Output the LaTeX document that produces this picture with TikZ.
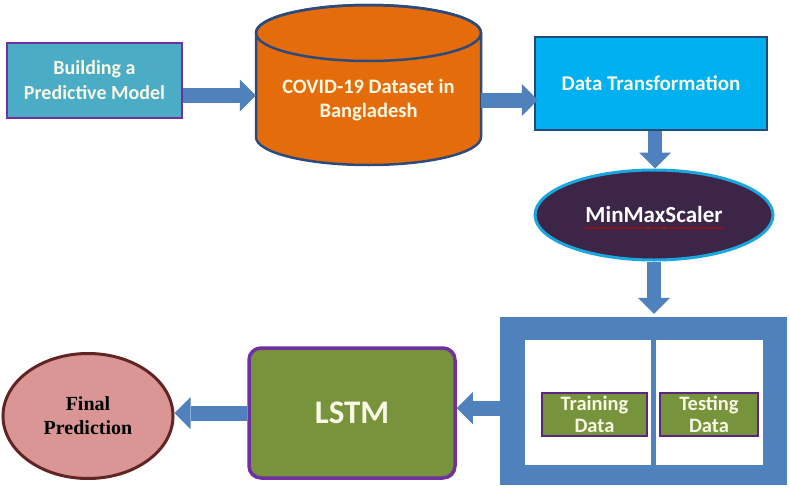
\documentclass[tikz,border=0pt]{standalone}
\usepackage{fontspec}
\setmainfont{Carlito}
\newfontfamily\timesfont{Liberation Serif}
\usetikzlibrary{shapes.geometric,arrows.meta,decorations.pathmorphing}
\definecolor{tealbox}{HTML}{4BACC6}
\definecolor{purpleb}{HTML}{7030A0}
\definecolor{orangec}{HTML}{E46C0A}
\definecolor{darkblue}{HTML}{2C4A7C}
\definecolor{skyblue}{HTML}{00B0F0}
\definecolor{dtborder}{HTML}{254A74}
\definecolor{plum}{HTML}{3C2546}
\definecolor{ellborder}{HTML}{1CA6E0}
\definecolor{arrowblue}{HTML}{4F81BD}
\definecolor{olive}{HTML}{77933C}
\definecolor{pinkf}{HTML}{D99694}
\definecolor{brownb}{HTML}{632523}
\definecolor{cream}{HTML}{F8F8E4}
\begin{document}
\begin{tikzpicture}[x=1pt,y=-1pt,
  txt/.style={text=cream,font=\fontsize{20}{25}\selectfont\bfseries,align=center},
  barrow/.style={draw=arrowblue,line width=15pt,-{Triangle[length=16pt,width=32pt,line width=0pt]}},
  greenbox/.style={rectangle,fill=olive,draw=purpleb!80!black,line width=1.5pt,txt,font=\fontsize{20.5}{22}\selectfont\bfseries,inner sep=0pt}
]
\useasboundingbox (0,0) rectangle (790,490);

% cylinder drawing
\filldraw[fill=orangec,draw=darkblue,line width=2.5pt]
  (256,33) -- (256,137) arc[start angle=180,end angle=0,x radius=112.5,y radius=28]
  -- (481,33) arc[start angle=0,end angle=-180,x radius=112.5,y radius=28] -- cycle;
\draw[darkblue,line width=2.5pt] (368.5,33) ellipse[x radius=112.5,y radius=28];

\node[rectangle,fill=tealbox,draw=purpleb,line width=2.5pt,minimum width=175pt,minimum height=75pt,txt]
  (building) at (94.5,80.5) {Building a\\Predictive Model};

\node[rectangle,minimum width=225pt,minimum height=134pt,txt,font=\fontsize{20.5}{24}\selectfont\bfseries]
  (covid) at (368.5,100) {COVID-19 Dataset in\\Bangladesh};

\node[rectangle,fill=skyblue,draw=dtborder,line width=2.5pt,minimum width=232pt,minimum height=93pt,txt,font=\fontsize{21}{24}\selectfont\bfseries]
  (dt) at (651,83.5) {Data Transformation};

\node[ellipse,fill=plum,draw=ellborder,line width=3pt,minimum width=238pt,minimum height=90pt,text=white,font=\fontsize{23}{26}\selectfont\bfseries]
  (minmax) at (654,215) {MinMaxScaler};
\draw[red!80!black,line width=0.5pt,decorate,decoration={snake,amplitude=0.7pt,segment length=2.5pt}]
  ([xshift=-70pt,yshift=-13pt]minmax.center) -- ([xshift=70pt,yshift=-13pt]minmax.center);

\node[rectangle,fill=arrowblue,minimum width=287pt,minimum height=168pt] (split) at (643.5,401) {};
\node[rectangle,fill=white,minimum width=238pt,minimum height=125pt] (inner) at (644,402.5) {};
\coordinate (divtop) at ([xshift=9pt]inner.north);
\coordinate (divbot) at ([xshift=9pt]inner.south);
\draw[arrowblue,line width=5pt] (divtop) -- (divbot);

\node[greenbox,minimum width=105pt,minimum height=43pt] (train) at (594.5,414.5) {Training\\Data};
\node[greenbox,minimum width=98pt,minimum height=43pt] (test) at (709,414.5) {Testing\\Data};

\node[rectangle,rounded corners=12pt,fill=olive,draw=purpleb,line width=3.5pt,minimum width=206pt,minimum height=130pt,text=cream,font=\fontsize{33}{38}\selectfont\bfseries]
  (lstm) at (352,413) {LSTM};

\node[ellipse,fill=pinkf,draw=brownb,line width=3pt,minimum width=170pt,minimum height=125pt,align=center,font=\timesfont\fontsize{20}{24}\selectfont\bfseries]
  (final) at (88,416) {Final\\Prediction};

% arrows
\draw[barrow] ([yshift=-15pt]building.east) -- ([yshift=-15pt]building.east -| covid.west);
\draw[barrow] (covid.east) -- ([xshift=4pt]covid.east -| dt.west);
\draw[barrow,line width=14pt] ([xshift=4pt]dt.south) -- ([xshift=4pt]dt.south |- minmax.north);
\draw[barrow,line width=14pt] (minmax.south) -- ([yshift=3pt]minmax.south |- split.north);
\draw[barrow] ([yshift=-7pt]split.west) -- ([yshift=-7pt]split.west -| lstm.east);
\draw[barrow] (lstm.west) -- (lstm.west -| final.east);
\end{tikzpicture}
\end{document}
